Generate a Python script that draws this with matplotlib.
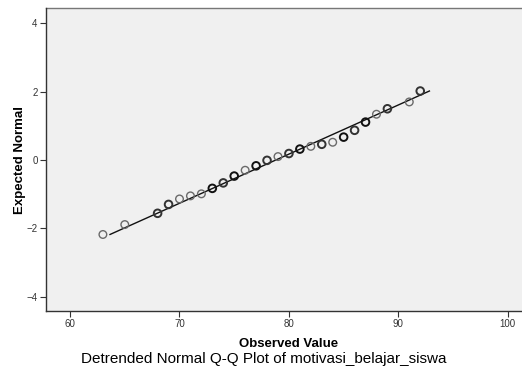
import numpy as np
import matplotlib
matplotlib.use("Agg")
import matplotlib.pyplot as plt

plt.rcParams['font.family'] = ['Liberation Sans', 'DejaVu Sans']

observed = [63, 65, 68, 69, 70, 71, 72, 73, 74, 75, 76, 77, 78,
            79, 80, 81, 82, 83, 84, 85, 86, 87, 88, 89, 91, 92]
expected = [-2.18, -1.89, -1.56, -1.30, -1.14, -1.05, -0.99, -0.83, -0.67,
            -0.47, -0.30, -0.17, -0.01, 0.10, 0.19, 0.32, 0.40, 0.46,
            0.52, 0.67, 0.87, 1.11, 1.34, 1.50, 1.70, 2.02]
# how many cases sit on each point (ties draw darker)
ties = [1, 1, 2, 2, 1, 1, 1, 3, 2, 3, 1, 3, 2, 1, 2, 3, 1, 2, 1, 3, 2, 3, 1, 2, 1, 2]

# reference line of the normal distribution
mean_val = 78.8
sd_val = 6.95

xticks = [60, 70, 80, 90, 100]
yticks = [-4, -2, 0, 2, 4]

fig = plt.figure(figsize=(5.22, 3.71), dpi=100)
ax = fig.add_axes([46 / 522, 60 / 371, 476 / 522, 303 / 371])
ax.set_facecolor('#f0f0f0')

ys = np.array([min(expected), max(expected)])
ax.plot(mean_val + sd_val * ys, ys, color='#111111', lw=1.0, zorder=2)

edge = {1: '#6a6a6a', 2: '#333333', 3: '#111111'}
ax.scatter(observed, expected, s=30, facecolors='none',
           edgecolors=[edge[t] for t in ties],
           linewidths=[1.0 if t == 1 else 1.4 for t in ties], zorder=3)

ax.set_xlim(57.8, 101.3)
ax.set_ylim(-4.42, 4.45)
ax.set_xticks(xticks)
ax.set_yticks(yticks)
ax.tick_params(direction='out', length=4, width=0.8, labelsize=7,
               labelcolor='#333333', color='#333333', pad=2)
for side in ['top', 'right']:
    ax.spines[side].set_visible(False)
for side in ['left', 'bottom']:
    ax.spines[side].set_color('#333333')
    ax.spines[side].set_linewidth(1.0)
# top frame line like SPSS
ax.plot([0, 1], [1, 1], transform=ax.transAxes, color='#777777', lw=1.0, clip_on=False)

fig.text(20 / 522, 1 - 160 / 371, 'Expected Normal', fontsize=9.5, fontweight='bold',
         rotation=90, ha='center', va='center')
fig.text(289 / 522, 1 - 344 / 371, 'Observed Value', fontsize=9.5,
         fontweight='bold', ha='center', va='center')
fig.text(264 / 522, 1 - 359 / 371, 'Detrended Normal Q-Q Plot of motivasi_belajar_siswa',
         fontsize=11, ha='center', va='center')

fig.savefig('out.png', dpi=100)
